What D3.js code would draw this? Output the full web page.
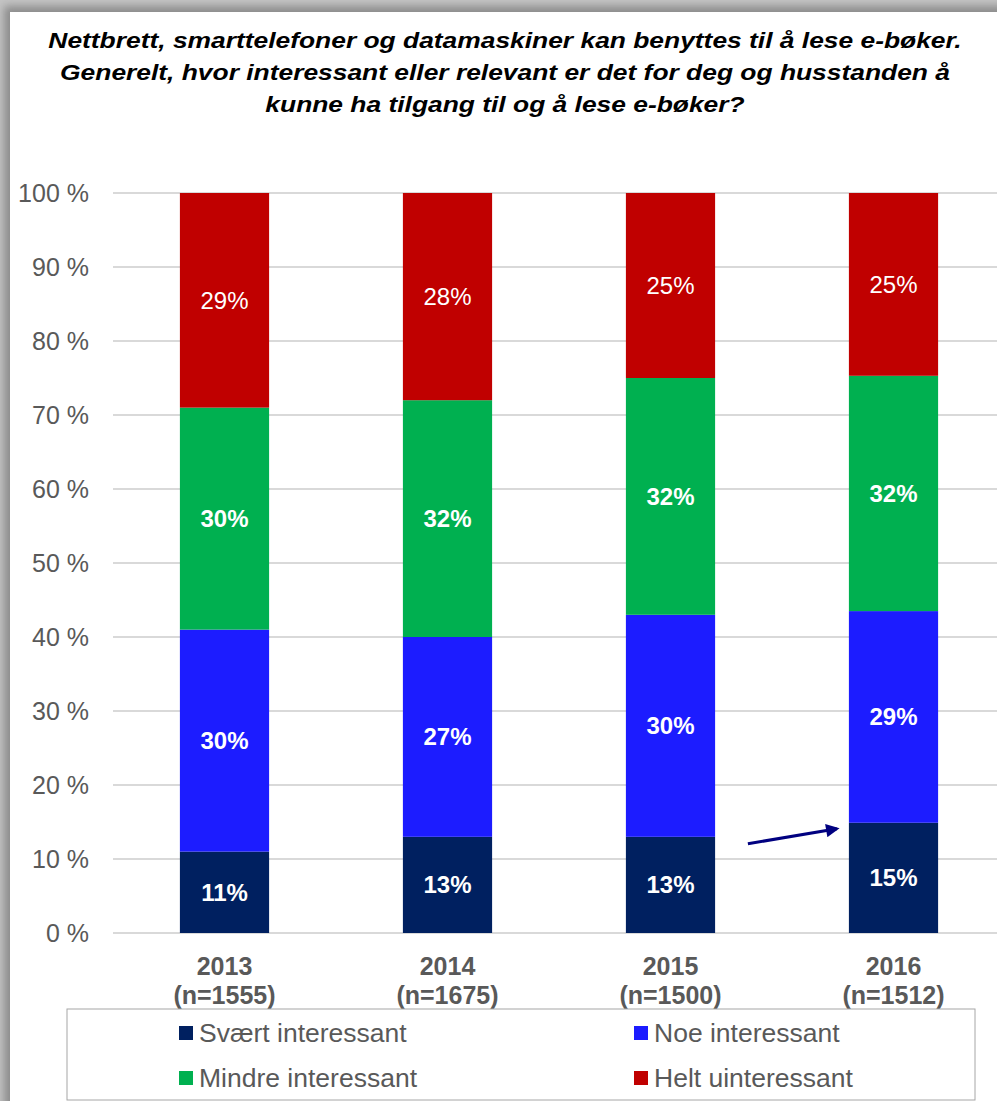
<!DOCTYPE html>
<html>
<head>
<meta charset="utf-8">
<script src="https://cdnjs.cloudflare.com/ajax/libs/d3/7.8.5/d3.min.js"></script>
<style>
  body { margin: 0; background: #fff; }
  svg { display: block; font-family: "Liberation Sans", Arial, sans-serif; }
</style>
</head>
<body>
<svg id="chart" width="997" height="1101"></svg>
<script>
  // data
  const years = ["2013", "2014", "2015", "2016"];
  const sampleSizes = ["(n=1555)", "(n=1675)", "(n=1500)", "(n=1512)"];
  const seriesNames = ["Svært interessant", "Noe interessant", "Mindre interessant", "Helt uinteressant"];
  const seriesColors = ["#002060", "#1C1CFF", "#00B050", "#C00000"];
  const svaert  = [11, 13, 13, 14.9];
  const noe     = [30, 27, 30, 28.6];
  const mindre  = [30, 32, 32, 31.8];
  const helt    = [29, 28, 25, 24.7];
  const yTicks = [0, 10, 20, 30, 40, 50, 60, 70, 80, 90, 100];
  const titleLines = [
    "Nettbrett, smarttelefoner og datamaskiner kan benyttes til å lese e-bøker.",
    "Generelt, hvor interessant eller relevant er det for deg og husstanden å",
    "kunne ha tilgang til og å lese e-bøker?"
  ];

  const grey = "#595959";
  const svg = d3.select("#chart");

  // frame with soft shadow
  const defs = svg.append("defs");
  defs.append("filter").attr("id", "blur")
    .attr("x", "-5%").attr("y", "-5%").attr("width", "110%").attr("height", "110%")
    .append("feGaussianBlur").attr("stdDeviation", 4);
  svg.append("rect").attr("width", 997).attr("height", 1101).attr("fill", "#c4c4c4");
  svg.append("rect").attr("x", 4).attr("y", 6).attr("width", 1010).attr("height", 1110)
    .attr("fill", "#8c8c8c").attr("filter", "url(#blur)");
  svg.append("rect").attr("x", 10).attr("y", 12).attr("width", 1000).attr("height", 1100)
    .attr("fill", "#fff");

  // title (the original font runs wider, so stretch it a little)
  svg.append("text")
    .attr("transform", "translate(505,0) scale(1.2,1)")
    .attr("text-anchor", "middle")
    .attr("font-size", 22).attr("font-weight", "bold").attr("font-style", "italic")
    .attr("fill", "#000")
    .selectAll("tspan")
    .data(titleLines)
    .join("tspan")
    .attr("x", 0)
    .attr("y", (d, i) => 48 + i * 32)
    .text(d => d);

  // table for stacking
  const table = years.map((yr, i) => ({
    year: yr,
    [seriesNames[0]]: svaert[i],
    [seriesNames[1]]: noe[i],
    [seriesNames[2]]: mindre[i],
    [seriesNames[3]]: helt[i]
  }));
  const stacked = d3.stack().keys(seriesNames)(table);

  const x = d3.scaleBand()
    .domain(years)
    .range([113, 1005])
    .paddingInner(0.6)
    .paddingOuter(0.3);

  const y = d3.scaleLinear()
    .domain([0, 100])
    .range([933, 193]);

  // gridlines
  svg.append("g")
    .selectAll("line")
    .data(yTicks)
    .join("line")
    .attr("x1", 113).attr("x2", 997)
    .attr("y1", d => y(d)).attr("y2", d => y(d))
    .attr("stroke", "#d9d9d9").attr("stroke-width", 2);

  // y axis labels
  const yAxis = svg.append("g")
    .attr("transform", "translate(89,0)")
    .call(d3.axisLeft(y).tickValues(yTicks).tickFormat(d => d + " %").tickSize(0).tickPadding(0));
  yAxis.select(".domain").remove();
  yAxis.selectAll("text")
    .attr("font-size", 25).attr("fill", grey)
    .attr("font-family", "Liberation Sans, Arial, sans-serif");

  // bars
  const layers = svg.append("g")
    .selectAll("g")
    .data(stacked)
    .join("g")
    .attr("fill", (d, i) => seriesColors[i]);

  layers.selectAll("rect")
    .data(d => d)
    .join("rect")
    .attr("x", d => x(d.data.year))
    .attr("width", x.bandwidth())
    .attr("y", d => y(d[1]))
    .attr("height", d => y(d[0]) - y(d[1]));

  // value labels
  layers.each(function(layer, li) {
    d3.select(this).selectAll("text")
      .data(layer)
      .join("text")
      .attr("x", d => x(d.data.year) + x.bandwidth() / 2)
      .attr("y", d => y((d[0] + d[1]) / 2))
      .attr("dy", "0.35em")
      .attr("text-anchor", "middle")
      .attr("font-size", 24)
      .attr("font-weight", li === 3 ? "normal" : "bold")
      .attr("fill", "#fff")
      .text(d => Math.round(d[1] - d[0]) + "%");
  });

  // x labels
  const xl = svg.append("g")
    .selectAll("text")
    .data(years)
    .join("text")
    .attr("text-anchor", "middle")
    .attr("font-size", 25).attr("font-weight", "bold").attr("fill", grey);
  xl.append("tspan")
    .attr("x", d => x(d) + x.bandwidth() / 2).attr("y", 975)
    .text(d => d);
  xl.append("tspan")
    .attr("x", d => x(d) + x.bandwidth() / 2).attr("y", 1004)
    .text((d, i) => sampleSizes[i]);

  // annotation arrow pointing at the 2016 top of "Svært interessant"
  defs.append("marker").attr("id", "head")
    .attr("viewBox", "0 0 10 10").attr("refX", 8).attr("refY", 5)
    .attr("markerWidth", 5.5).attr("markerHeight", 4.5).attr("orient", "auto")
    .append("path").attr("d", "M0,0 L10,5 L0,10 z").attr("fill", "#000080");
  const last = years.length - 1;
  svg.append("line")
    .attr("x1", x(years[last]) - 101).attr("y1", y(svaert[last]) + 21)
    .attr("x2", x(years[last]) - 12).attr("y2", y(svaert[last]) + 6)
    .attr("stroke", "#000080").attr("stroke-width", 3)
    .attr("marker-end", "url(#head)");

  // legend
  svg.append("rect")
    .attr("x", 67).attr("y", 1009).attr("width", 908).attr("height", 91)
    .attr("fill", "#fff").attr("stroke", "#a6a6a6").attr("stroke-width", 1);

  const legend = svg.append("g")
    .selectAll("g")
    .data(seriesNames)
    .join("g")
    .attr("transform", (d, i) => `translate(${i % 2 === 0 ? 179 : 634},${i < 2 ? 1026 : 1071})`);
  legend.append("rect")
    .attr("width", 14).attr("height", 14)
    .attr("fill", (d, i) => seriesColors[i]);
  legend.append("text")
    .attr("x", 20).attr("y", 16)
    .attr("font-size", 26.5).attr("fill", grey)
    .text(d => d);
</script>
</body>
</html>
